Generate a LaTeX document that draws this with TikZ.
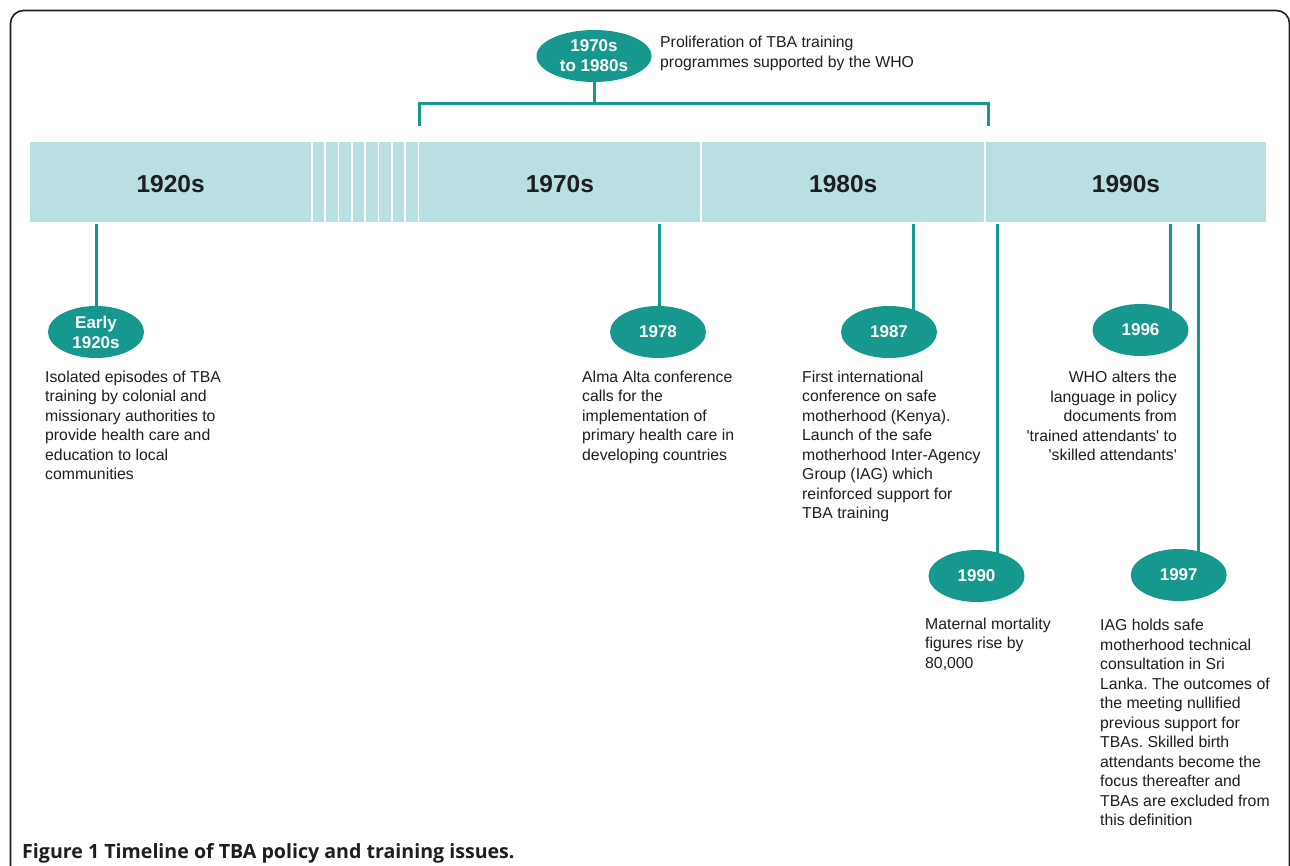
\documentclass[tikz,border=0pt]{standalone}
\usepackage{fontspec}
\setmainfont{Liberation Sans}
\newfontfamily\capfont{Open Sans}
\usetikzlibrary{shapes.geometric}
\definecolor{tealA}{RGB}{22,152,142}
\definecolor{bandA}{RGB}{185,223,227}
\definecolor{ink}{RGB}{30,30,30}
\pgfdeclarelayer{bg}
\pgfdeclarelayer{back}
\pgfsetlayers{back,bg,main}
\frenchspacing
\begin{document}
\begin{tikzpicture}[x=1pt,y=-1pt,
  seg/.style={fill=bandA, draw=none, minimum height=80pt, inner sep=0pt, anchor=west},
  yearlbl/.style={font=\bfseries\fontsize{24.5}{28}\selectfont, text=ink, inner sep=0pt},
  ev/.style={ellipse, fill=tealA, minimum width=96pt, minimum height=52pt, inner sep=0pt,
    text=white, font=\bfseries\fontsize{17}{20}\selectfont, align=center},
  stem/.style={draw=tealA, line width=3pt},
  txt/.style={font=\fontsize{15.8}{19.5}\selectfont, text=ink, inner sep=0pt, align=left, anchor=north west},
]
\useasboundingbox (0,0) rectangle (1290,866);
\begin{pgfonlayer}{back}
\fill[white] (0,0) rectangle (1290,866);
\end{pgfonlayer}
% frame
\draw[line width=1.6pt, draw=ink, rounded corners=13pt] (10.5,890) -- (10.5,10.5) -- (1289.5,10.5) -- (1289.5,890);

% band segments
\node[seg, minimum width=280.9pt] (s1920) at (30,181.7) {};
\foreach \i in {0,...,7}
  \node[seg, minimum width=11.73pt] (st\i) at ({312.5+13.33*\i},181.7) {};
\node[seg, minimum width=281.1pt] (s1970) at (419.1,181.7) {};
\node[seg, minimum width=282.4pt] (s1980) at (701.8,181.7) {};
\node[seg, minimum width=279.9pt] (s1990) at (985.8,181.7) {};

\node[yearlbl] (l1920) at ([yshift=-2pt]s1920.center) {1920s};
\node[yearlbl] (l1970) at ([yshift=-2pt]s1970.center) {1970s};
\node[yearlbl] (l1980) at ([yshift=-2pt]s1980.center) {1980s};
\node[yearlbl] (l1990) at ([yshift=-2pt]s1990.center) {1990s};

% event ellipses
\node[ev] (e1920) at (96,332) {Early\\1920s};
\node[ev] (e1978) at (658,332) {1978};
\node[ev] (e1987) at (889,332) {1987};
\node[ev] (e1990) at (976.5,576) {1990};
\node[ev] (e1996) at (1140.5,330) {1996};
\node[ev] (e1997) at (1178.7,575) {1997};
\node[ev, minimum width=115pt] (e7080) at (594,56) {1970s\\to 1980s};

% stems
\coordinate (c1978) at (659,0);
\coordinate (c1987) at (913,0);
\coordinate (c1990) at (997,0);
\coordinate (c1996) at (1170,0);
\coordinate (c1997) at (1198,0);
\coordinate (bl) at (419.3,126);
\coordinate (br) at (988,126);
\coordinate (bt) at (0,103.5);
\begin{pgfonlayer}{bg}
\draw[stem, shorten <=2.5pt] (e1920 |- s1920.south) -- (e1920.center);
\draw[stem, shorten <=2.5pt] (c1978 |- s1970.south) -- (c1978 |- e1978.center);
\draw[stem, shorten <=2.5pt] (c1987 |- s1980.south) -- (c1987 |- e1987.center);
\draw[stem, shorten <=2.5pt] (c1990 |- s1990.south) -- (c1990 |- e1990.center);
\draw[stem, shorten <=2.5pt] (c1996 |- s1990.south) -- (c1996 |- e1996.center);
\draw[stem, shorten <=2.5pt] (c1997 |- s1990.south) -- (c1997 |- e1997.center);
\draw[stem] (e7080.center) -- (e7080 |- bt);
\end{pgfonlayer}
\draw[stem] (bl) -- (bl |- bt) -- (br |- bt) -- (br);

% texts
\node[txt] (t7080) at (660,36) {Proliferation of TBA training\\programmes supported by the WHO};
\node[txt] (t1920) at (45,370.5) {Isolated episodes of TBA\\training by colonial and\\missionary authorities to\\provide health care and\\education to local\\communities};
\node[txt] (t1978) at (582,370.5) {Alma Alta conference\\calls for the\\implementation of\\primary health care in\\developing countries};
\node[txt] (t1987) at (802,370.5) {First international\\conference on safe\\motherhood (Kenya).\\Launch of the safe\\motherhood Inter-Agency\\Group (IAG) which\\reinforced support for\\TBA training};
\node[txt] (t1990) at (925,617.5) {Maternal mortality\\figures rise by\\80,000};
\node[txt, align=right, anchor=north east] (t1996) at (1177,371) {WHO alters the\\language in policy\\documents from\\\textquotesingle trained attendants\textquotesingle{} to\\\textquotesingle skilled attendants\textquotesingle};
\node[txt] (t1997) at (1100,619) {IAG holds safe\\motherhood technical\\consultation in Sri\\Lanka. The outcomes of\\the meeting nullified\\previous support for\\TBAs. Skilled birth\\attendants become the\\focus thereafter and\\TBAs are excluded from\\this definition};

% caption
\node[anchor=base west, inner sep=0pt, font=\capfont\bfseries\fontsize{19.6}{23}\selectfont, text=ink] (cap) at (22,858) {Figure 1 Timeline of TBA policy and training issues.};
\end{tikzpicture}
\end{document}
